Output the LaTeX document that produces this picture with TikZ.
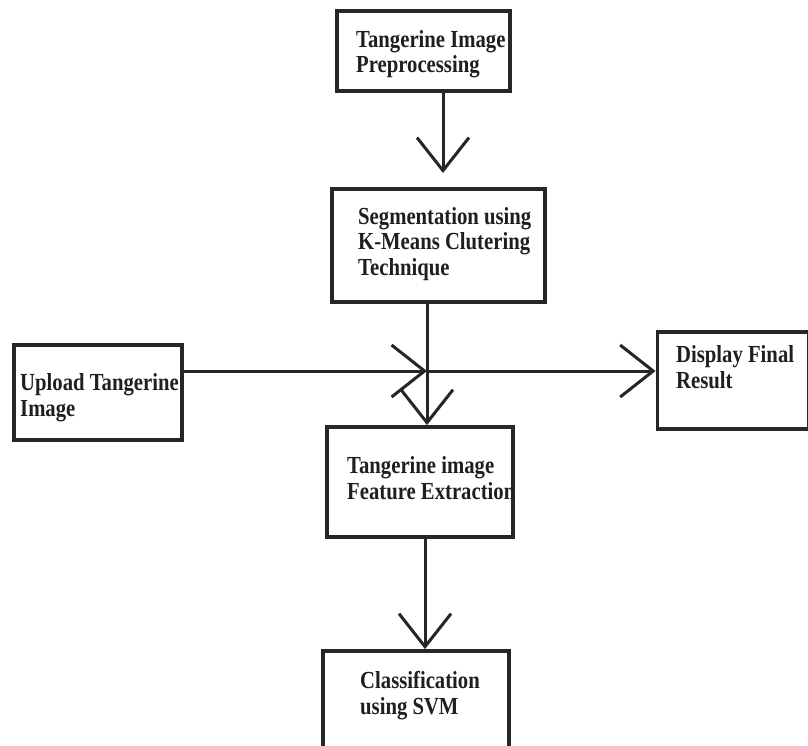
\documentclass[tikz,border=0pt]{standalone}
\usepackage{fontspec}
\newfontfamily\lblfont{Liberation Serif}[FakeStretch=0.845]
\usetikzlibrary{arrows.meta}
\begin{document}
\begin{tikzpicture}[x=1pt,y=-1pt,
  box/.style={draw=black!85, line width=3.8pt, rectangle, inner sep=0pt},
  lbl/.style={anchor=base west, align=left, inner sep=0pt, text=black!88,
    font=\lblfont\bfseries\fontsize{24.5}{25.5}\selectfont},
  arr/.style={draw=black!85, line width=3pt,
    -{Straight Barb[length=33pt,width=52pt,line width=3pt]}}]
\useasboundingbox (0,0) rectangle (808,745);
\fill[white] (0,0) rectangle (808,745);
% boxes
\node[box, minimum width=173pt, minimum height=80pt] (pre) at (423.5,51) {};
\node[box, minimum width=213pt, minimum height=113pt] (seg) at (438.5,245.5) {};
\node[box, minimum width=168pt, minimum height=95pt] (up) at (98,392.5) {};
\node[box, minimum width=151pt, minimum height=97pt] (disp) at (733,380.5) {};
\node[box, minimum width=186pt, minimum height=110pt] (feat) at (420,482) {};
\node[box, minimum width=186pt, minimum height=102pt] (cls) at (416,702) {};
% texts (anchored at the baseline of the last line)
\node[lbl] (tpre) at (356,72.5) {Tangerine Image\\Preprocessing};
\node[lbl] (tseg) at (358,275) {Segmentation using\\K-Means Clutering\\Technique};
\node[lbl] (tup) at (20,416) {Upload Tangerine\\Image};
\node[lbl] (tdisp) at (676,388) {Display Final\\Result};
\node[lbl] (tfeat) at (347,499) {Tangerine image\\Feature Extraction};
\node[lbl] (tcls) at (360,714) {Classification\\using SVM};
% connector points
\coordinate (t1) at (443,173);
\coordinate (J) at (427,371);
% connectors
\draw[arr] (pre.south -| t1) -- (t1);
\draw[arr] (seg.south -| J) -- (feat.north -| J);
\draw[arr] (up.east |- J) -- (J);
\draw[arr] (J) -- (disp.west |- J);
\draw[arr] (feat.south -| 425,0) -- (cls.north -| 425,0);
\end{tikzpicture}
\end{document}
